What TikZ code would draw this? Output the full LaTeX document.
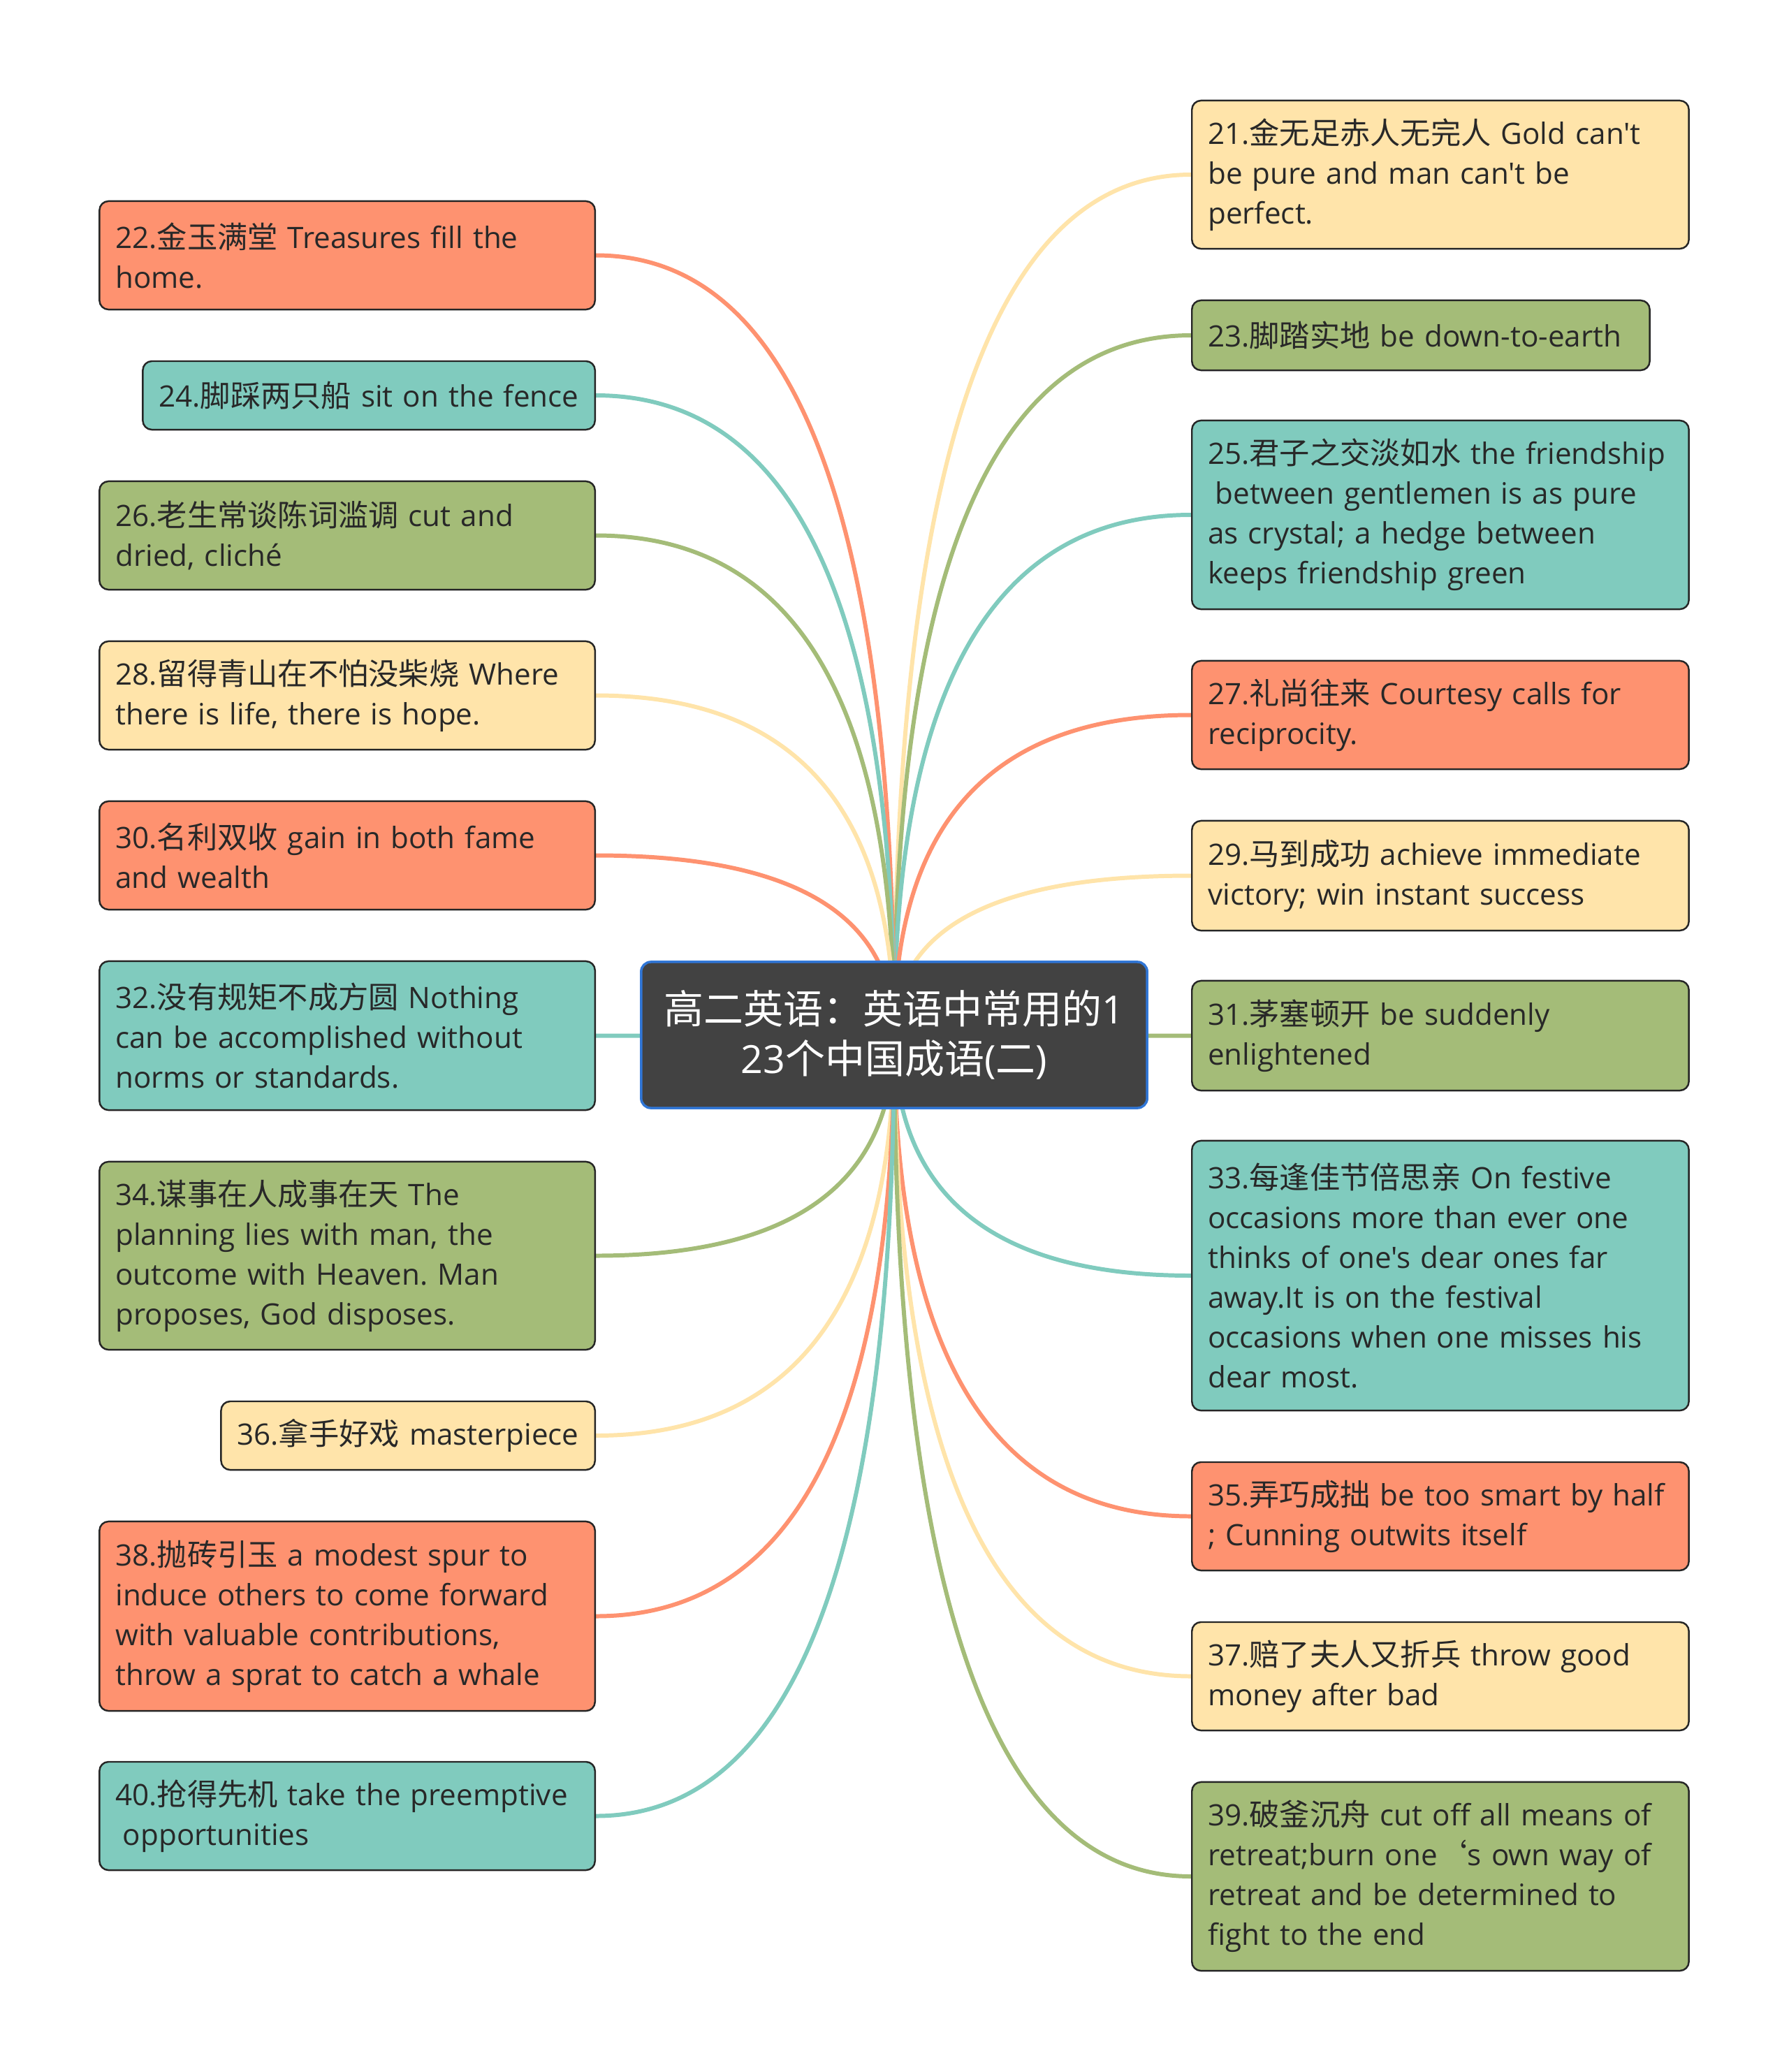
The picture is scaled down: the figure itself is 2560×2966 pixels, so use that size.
\documentclass[tikz,border=0pt]{standalone}
\usepackage{fontspec}
\setmainfont{Open Sans}[Ligatures=TeXOff, Scale=0.975]
\newfontfamily\zhfont{Noto Sans CJK SC}
\newcommand{\zh}[1]{{\zhfont #1}}
\usetikzlibrary{calc,backgrounds}
\definecolor{corange}{RGB}{254,146,112}
\definecolor{cteal}{RGB}{128,203,190}
\definecolor{cgreen}{RGB}{164,188,120}
\definecolor{cyellow}{RGB}{255,228,170}
\definecolor{croot}{RGB}{66,66,66}
\definecolor{cblue}{RGB}{48,118,214}
\definecolor{ctext}{RGB}{40,40,40}
\hyphenpenalty=10000
\exhyphenpenalty=10000
\frenchspacing
\tikzset{
  leaf/.style={draw=black!85, line width=0.7pt, rounded corners=0.13cm,
    text=ctext, align=left, inner xsep=0.23cm, inner ysep=0.08cm,
    font=\fontsize{12.3}{16.2}\selectfont},
  rightleaf/.style={leaf, anchor=west},
  leftleaf/.style={leaf, anchor=east},
  branch/.style={line width=1.7pt, to path={.. controls
    ($(\tikztostart)!0.667!(\tikztostart |- \tikztotarget)$) and
    ($(\tikztotarget)!0.667!(\tikztostart |- \tikztotarget)$) .. (\tikztotarget)}}
}
\begin{document}
\begin{tikzpicture}[x=0.01cm, y=-0.01cm]
  \useasboundingbox (0,0) rectangle (2560,2966);
  %% central topic
  \node[fill=croot, draw=cblue, line width=1pt, rounded corners=0.14cm, text=white,
    align=center, minimum width=7.24cm, minimum height=2.09cm,
    font=\fontsize{16.2}{20.2}\selectfont] (root) at (1280,1481.5)
    {\zh{高二英语：英语中常用的}1\\23\zh{个中国成语}(\zh{二})};
  %% right column
  \node[rightleaf, fill=cyellow, text width=6.65cm, minimum height=2.12cm] (n21) at (1705,250)
    {21.\zh{金无足赤人无完人} Gold can't\\be pure and man can't be\\perfect.};
  \node[rightleaf, fill=cgreen, text width=6.09cm, minimum height=1.00cm] (n23) at (1705,480)
    {23.\zh{脚踏实地} be down-to-earth};
  \node[rightleaf, fill=cteal, text width=6.65cm, minimum height=2.70cm] (n25) at (1705,737)
    {25.\zh{君子之交淡如水} the friendship\\\hspace*{0.25em}between gentlemen is as pure\\as crystal; a hedge between\\keeps friendship green};
  \node[rightleaf, fill=corange, text width=6.65cm, minimum height=1.55cm] (n27) at (1705,1023.5)
    {27.\zh{礼尚往来} Courtesy calls for\\reciprocity.};
  \node[rightleaf, fill=cyellow, text width=6.65cm, minimum height=1.57cm] (n29) at (1705,1253.5)
    {29.\zh{马到成功} achieve immediate\\victory; win instant success};
  \node[rightleaf, fill=cgreen, text width=6.65cm, minimum height=1.57cm] (n31) at (1705,1482.5)
    {31.\zh{茅塞顿开} be suddenly\\enlightened};
  \node[rightleaf, fill=cteal, text width=6.65cm, minimum height=3.86cm] (n33) at (1705,1826)
    {33.\zh{每逢佳节倍思亲} On festive\\occasions more than ever one\\thinks of one's dear ones far\\away.It is on the festival\\occasions when one misses his\\dear most.};
  \node[rightleaf, fill=corange, text width=6.65cm, minimum height=1.55cm] (n35) at (1705,2170.5)
    {35.\zh{弄巧成拙} be too smart by half\\; Cunning outwits itself};
  \node[rightleaf, fill=cyellow, text width=6.65cm, minimum height=1.55cm] (n37) at (1705,2399.5)
    {37.\zh{赔了夫人又折兵} throw good\\money after bad};
  \node[rightleaf, fill=cgreen, text width=6.65cm, minimum height=2.70cm] (n39) at (1705,2686)
    {39.\zh{破釜沉舟} cut off all means of\\retreat;burn one\zh{‘}s own way of\\retreat and be determined to\\fight to the end};
  %% left column
  \node[leftleaf, fill=corange, text width=6.63cm, minimum height=1.55cm] (n22) at (853,365.5)
    {22.\zh{金玉满堂} Treasures fill the\\home.};
  \node[leftleaf, fill=cteal, text width=6.01cm, minimum height=0.98cm] (n24) at (853,566)
    {24.\zh{脚踩两只船} sit on the fence};
  \node[leftleaf, fill=cgreen, text width=6.63cm, minimum height=1.55cm] (n26) at (853,766.5)
    {26.\zh{老生常谈陈词滥调} cut and\\dried, cliché};
  \node[leftleaf, fill=cyellow, text width=6.63cm, minimum height=1.55cm] (n28) at (853,995.5)
    {28.\zh{留得青山在不怕没柴烧} Where\\there is life, there is hope.};
  \node[leftleaf, fill=corange, text width=6.63cm, minimum height=1.55cm] (n30) at (853,1224.5)
    {30.\zh{名利双收} gain in both fame\\and wealth};
  \node[leftleaf, fill=cteal, text width=6.63cm, minimum height=2.13cm] (n32) at (853,1482.5)
    {32.\zh{没有规矩不成方圆} Nothing\\can be accomplished without\\norms or standards.};
  \node[leftleaf, fill=cgreen, text width=6.63cm, minimum height=2.69cm] (n34) at (853,1797.5)
    {34.\zh{谋事在人成事在天} The\\planning lies with man, the\\outcome with Heaven. Man\\proposes, God disposes.};
  \node[leftleaf, fill=cyellow, text width=4.89cm, minimum height=0.98cm] (n36) at (853,2055)
    {36.\zh{拿手好戏} masterpiece};
  \node[leftleaf, fill=corange, text width=6.63cm, minimum height=2.71cm] (n38) at (853,2313.5)
    {38.\zh{抛砖引玉} a modest spur to\\induce others to come forward\\with valuable contributions,\\throw a sprat to catch a whale};
  \node[leftleaf, fill=cteal, text width=6.63cm, minimum height=1.55cm] (n40) at (853,2599.5)
    {40.\zh{抢得先机} take the preemptive\\\hspace*{0.25em}opportunities};
  %% branches, behind the boxes
  \begin{pgfonlayer}{background}
    \draw[branch, cyellow] (root.center) to (n21.west);
    \draw[branch, cgreen]  (root.center) to (n23.west);
    \draw[branch, cteal]   (root.center) to (n25.west);
    \draw[branch, corange] (root.center) to (n27.west);
    \draw[branch, cyellow] (root.center) to (n29.west);
    \draw[branch, cgreen]  (root.center) to (n31.west);
    \draw[branch, cteal]   (root.center) to (n33.west);
    \draw[branch, corange] (root.center) to (n35.west);
    \draw[branch, cyellow] (root.center) to (n37.west);
    \draw[branch, cgreen]  (root.center) to (n39.west);
    \draw[branch, corange] (root.center) to (n22.east);
    \draw[branch, cteal]   (root.center) to (n24.east);
    \draw[branch, cgreen]  (root.center) to (n26.east);
    \draw[branch, cyellow] (root.center) to (n28.east);
    \draw[branch, corange] (root.center) to (n30.east);
    \draw[branch, cteal]   (root.center) to (n32.east);
    \draw[branch, cgreen]  (root.center) to (n34.east);
    \draw[branch, cyellow] (root.center) to (n36.east);
    \draw[branch, corange] (root.center) to (n38.east);
    \draw[branch, cteal]   (root.center) to (n40.east);
  \end{pgfonlayer}
\end{tikzpicture}
\end{document}
